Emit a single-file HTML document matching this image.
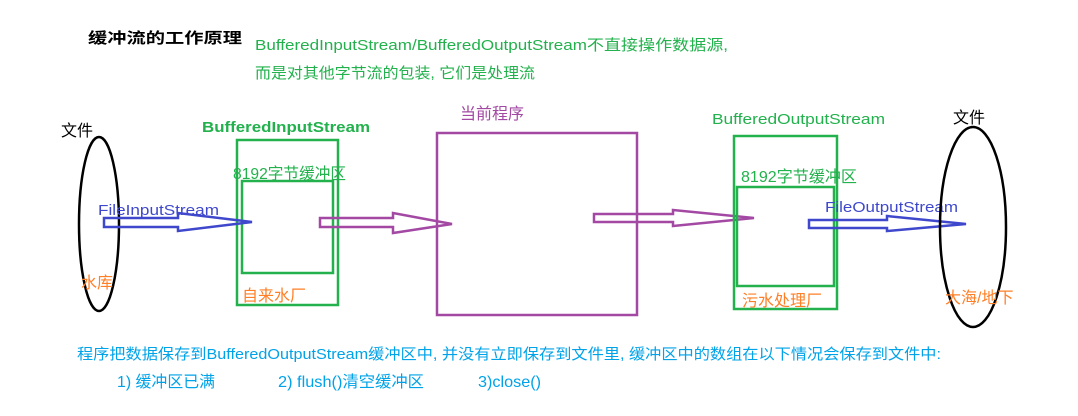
<!DOCTYPE html>
<html><head><meta charset="utf-8"><style>
html,body{margin:0;padding:0;background:#fff;}
svg{display:block;}
text{font-family:"Liberation Sans","Noto Sans CJK SC",sans-serif;}
</style></head><body>
<svg width="1078" height="416" viewBox="0 0 1078 416" xmlns="http://www.w3.org/2000/svg">
<rect width="1078" height="416" fill="#fff"/>
<text x="88" y="43" font-size="15" font-weight="bold" fill="#000" textLength="154" lengthAdjust="spacingAndGlyphs">缓冲流的工作原理</text>
<text x="255" y="50" font-size="15" fill="#22b14c" textLength="473" lengthAdjust="spacingAndGlyphs">BufferedInputStream/BufferedOutputStream不直接操作数据源,</text>
<text x="255" y="78" font-size="15" fill="#22b14c" textLength="280" lengthAdjust="spacingAndGlyphs">而是对其他字节流的包装, 它们是处理流</text>

<!-- left ellipse -->
<text x="61" y="136" font-size="16" fill="#000">文件</text>
<ellipse cx="99" cy="224" rx="20" ry="87" fill="none" stroke="#000" stroke-width="2.5"/>
<text x="81" y="288" font-size="16" fill="#ff7f27">水库</text>

<!-- BIS -->
<text x="202" y="132" font-size="15" font-weight="bold" fill="#22b14c" textLength="168" lengthAdjust="spacingAndGlyphs">BufferedInputStream</text>
<rect x="237" y="140" width="101" height="165" fill="none" stroke="#22b14c" stroke-width="2.5"/>
<text x="233" y="179" font-size="16" fill="#22b14c" textLength="113" lengthAdjust="spacingAndGlyphs">8192字节缓冲区</text>
<rect x="242" y="181" width="91" height="92" fill="none" stroke="#22b14c" stroke-width="2.5"/>
<text x="242" y="301" font-size="16" fill="#ff7f27">自来水厂</text>

<!-- blue arrow 1 -->
<text x="98" y="215" font-size="15" fill="#3f48cc" textLength="121" lengthAdjust="spacingAndGlyphs">FileInputStream</text>
<polygon points="104,218 178,218 178,213 252,222 178,231 178,227 104,227" fill="none" stroke="#3f48cc" stroke-width="2.5"/>

<!-- purple arrow 1 -->
<polygon points="320,218 393,218 393,213 452,224 393,233 393,227 320,227" fill="none" stroke="#a349a4" stroke-width="2.5"/>

<!-- program -->
<text x="460" y="119" font-size="16" fill="#a349a4">当前程序</text>
<rect x="437" y="133" width="200" height="182" fill="none" stroke="#a349a4" stroke-width="2.5"/>

<!-- purple arrow 2 -->
<polygon points="594,214 673,214 673,210 754,218 673,226 673,222 594,222" fill="none" stroke="#a349a4" stroke-width="2.5"/>

<!-- BOS -->
<text x="712" y="124" font-size="15" fill="#22b14c" textLength="173" lengthAdjust="spacingAndGlyphs">BufferedOutputStream</text>
<rect x="734" y="136" width="103" height="173" fill="none" stroke="#22b14c" stroke-width="2.5"/>
<text x="741" y="182" font-size="16" fill="#22b14c" textLength="116" lengthAdjust="spacingAndGlyphs">8192字节缓冲区</text>
<rect x="737" y="187" width="97" height="99" fill="none" stroke="#22b14c" stroke-width="2.5"/>
<text x="742" y="306" font-size="16" fill="#ff7f27">污水处理厂</text>

<!-- blue arrow 2 -->
<text x="825" y="212" font-size="15" fill="#3f48cc" textLength="133" lengthAdjust="spacingAndGlyphs">FileOutputStream</text>
<polygon points="809,220 887,220 887,216 966,224 887,231 887,228 809,228" fill="none" stroke="#3f48cc" stroke-width="2.5"/>

<!-- right ellipse -->
<text x="953" y="123" font-size="16" fill="#000">文件</text>
<ellipse cx="973" cy="227" rx="33" ry="100" fill="none" stroke="#000" stroke-width="2.5"/>
<text x="945" y="303" font-size="16" fill="#ff7f27">大海/地下</text>

<!-- bottom -->
<text x="77" y="359" font-size="15" fill="#00a2e8" textLength="864" lengthAdjust="spacingAndGlyphs">程序把数据保存到BufferedOutputStream缓冲区中, 并没有立即保存到文件里, 缓冲区中的数组在以下情况会保存到文件中:</text>
<text x="117" y="387" font-size="16" fill="#00a2e8" textLength="98" lengthAdjust="spacingAndGlyphs">1) 缓冲区已满</text>
<text x="278" y="387" font-size="16" fill="#00a2e8" textLength="146" lengthAdjust="spacingAndGlyphs">2) flush()清空缓冲区</text>
<text x="478" y="387" font-size="16" fill="#00a2e8" textLength="63" lengthAdjust="spacingAndGlyphs">3)close()</text>
</svg>
</body></html>
